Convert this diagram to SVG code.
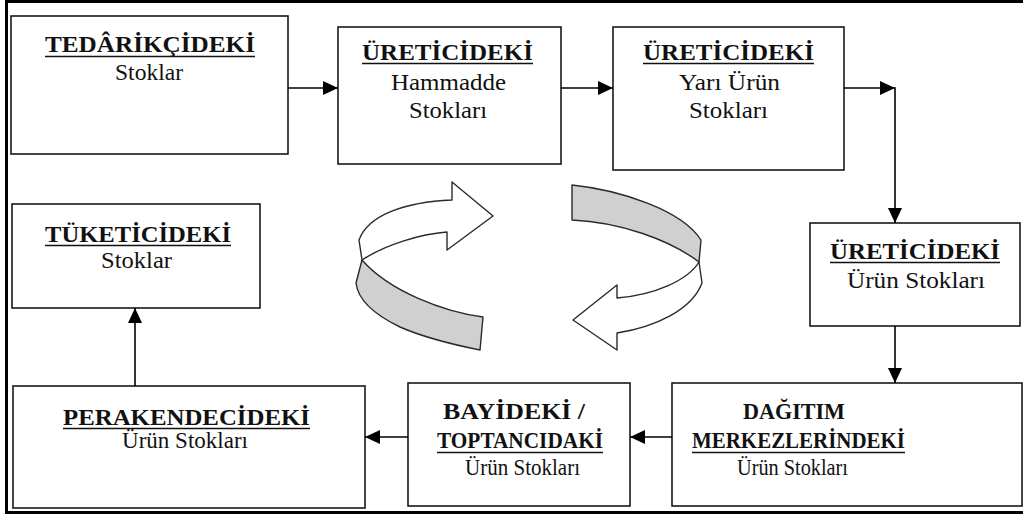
<svg xmlns="http://www.w3.org/2000/svg" width="1023" height="515" viewBox="0 0 1023 515">
  <defs>
    <style>
      .box { fill: #ffffff; stroke: #1a1a1a; stroke-width: 1.6; }
      .title { font-family: 'Liberation Serif', 'DejaVu Serif', serif; font-size: 24px; font-weight: bold; fill: #111; }
      .sub { font-family: 'Liberation Serif', 'DejaVu Serif', serif; font-size: 23px; fill: #111; }
      .ul { stroke: #111; stroke-width: 1.5; }
      .conn { stroke: #000; stroke-width: 1.6; fill: none; }
      .ribbon { stroke: #2a2a2a; stroke-width: 1.4; stroke-linejoin: round; }
      .frame { fill: none; stroke: #000; stroke-width: 3; }
    </style>
    <marker id="arrow" markerUnits="userSpaceOnUse" markerWidth="16" markerHeight="14" refX="15" refY="7" orient="auto">
      <path d="M0,0 L15,7 L0,14 Z" fill="#000"/>
    </marker>
  </defs>

  <rect width="1023" height="515" fill="#ffffff"/>

  <!-- outer frame (open on the right) -->
  <path class="frame" d="M1023,1.5 H6.5 V512.5 H1023"/>

  <!-- supplier stock -->
  <g id="node-tedarikci">
    <rect class="box" x="11" y="16" width="277" height="138"/>
    <text class="title" x="45" y="52" textLength="210" lengthAdjust="spacingAndGlyphs">TEDÂRİKÇİDEKİ</text>
    <line class="ul" x1="45" y1="56.5" x2="255" y2="56.5"/>
    <text class="sub" x="115" y="80" textLength="68" lengthAdjust="spacingAndGlyphs">Stoklar</text>
  </g>

  <!-- producer raw material stock -->
  <g id="node-hammadde">
    <rect class="box" x="338" y="27" width="223" height="137"/>
    <text class="title" x="362" y="60" textLength="171" lengthAdjust="spacingAndGlyphs">ÜRETİCİDEKİ</text>
    <line class="ul" x1="362" y1="63.5" x2="533" y2="63.5"/>
    <text class="sub" x="391" y="90" textLength="115" lengthAdjust="spacingAndGlyphs">Hammadde</text>
    <text class="sub" x="409" y="118" textLength="78" lengthAdjust="spacingAndGlyphs">Stokları</text>
  </g>

  <!-- producer semi-finished stock -->
  <g id="node-yari-urun">
    <rect class="box" x="613" y="27" width="231" height="143"/>
    <text class="title" x="643" y="60" textLength="171" lengthAdjust="spacingAndGlyphs">ÜRETİCİDEKİ</text>
    <line class="ul" x1="643" y1="63.5" x2="814" y2="63.5"/>
    <text class="sub" x="679" y="90" textLength="101" lengthAdjust="spacingAndGlyphs">Yarı Ürün</text>
    <text class="sub" x="689" y="118" textLength="79" lengthAdjust="spacingAndGlyphs">Stokları</text>
  </g>

  <!-- producer finished goods stock -->
  <g id="node-urun">
    <rect class="box" x="810" y="223" width="210" height="103"/>
    <text class="title" x="830" y="259" textLength="170" lengthAdjust="spacingAndGlyphs">ÜRETİCİDEKİ</text>
    <line class="ul" x1="830" y1="262.5" x2="1000" y2="262.5"/>
    <text class="sub" x="847" y="288" textLength="138" lengthAdjust="spacingAndGlyphs">Ürün Stokları</text>
  </g>

  <!-- distribution centre stock -->
  <g id="node-dagitim">
    <rect class="box" x="672" y="383" width="350" height="123"/>
    <text class="title" x="743" y="419" textLength="102" lengthAdjust="spacingAndGlyphs">DAĞITIM</text>
    <text class="title" x="692" y="448" textLength="213" lengthAdjust="spacingAndGlyphs">MERKEZLERİNDEKİ</text>
    <line class="ul" x1="692" y1="452.5" x2="905" y2="452.5"/>
    <text class="sub" x="737" y="475" textLength="111" lengthAdjust="spacingAndGlyphs">Ürün Stokları</text>
  </g>

  <!-- dealer / wholesaler stock -->
  <g id="node-bayi">
    <rect class="box" x="408" y="383" width="222" height="123"/>
    <text class="title" x="443" y="419" textLength="142" lengthAdjust="spacingAndGlyphs">BAYİDEKİ /</text>
    <text class="title" x="437" y="448" textLength="166" lengthAdjust="spacingAndGlyphs">TOPTANCIDAKİ</text>
    <line class="ul" x1="437" y1="452.5" x2="603" y2="452.5"/>
    <text class="sub" x="465" y="475" textLength="115" lengthAdjust="spacingAndGlyphs">Ürün Stokları</text>
  </g>

  <!-- retailer stock -->
  <g id="node-perakende">
    <rect class="box" x="13" y="386" width="352" height="122"/>
    <text class="title" x="63" y="425" textLength="247" lengthAdjust="spacingAndGlyphs">PERAKENDECİDEKİ</text>
    <line class="ul" x1="63" y1="428.5" x2="310" y2="428.5"/>
    <text class="sub" x="122" y="448" textLength="126" lengthAdjust="spacingAndGlyphs">Ürün Stokları</text>
  </g>

  <!-- consumer stock -->
  <g id="node-tuketici">
    <rect class="box" x="12" y="204" width="248" height="104"/>
    <text class="title" x="45" y="242" textLength="186" lengthAdjust="spacingAndGlyphs">TÜKETİCİDEKİ</text>
    <line class="ul" x1="45" y1="245.5" x2="231" y2="245.5"/>
    <text class="sub" x="101" y="268" textLength="71" lengthAdjust="spacingAndGlyphs">Stoklar</text>
  </g>

  <!-- flow connectors -->
  <g id="connectors">
    <line class="conn" x1="288" y1="88" x2="338" y2="88" marker-end="url(#arrow)"/>
    <line class="conn" x1="561" y1="88" x2="613" y2="88" marker-end="url(#arrow)"/>
    <line class="conn" x1="844" y1="88" x2="895" y2="88" marker-end="url(#arrow)"/>
    <line class="conn" x1="895" y1="87.2" x2="895" y2="223" marker-end="url(#arrow)"/>
    <line class="conn" x1="895" y1="326" x2="895" y2="383" marker-end="url(#arrow)"/>
    <line class="conn" x1="672" y1="437" x2="630" y2="437" marker-end="url(#arrow)"/>
    <line class="conn" x1="408" y1="437" x2="365" y2="437" marker-end="url(#arrow)"/>
    <line class="conn" x1="135" y1="386" x2="135" y2="308" marker-end="url(#arrow)"/>
  </g>

  <!-- circular ribbon arrows in the centre -->
  <g id="cycle-left">
    <path class="ribbon" fill="#d0d0d0" d="M362,260 L356,283 C358,300 375,315 400,327 C425,338 455,345 480,350 L483,317 C445,312 390,292 362,260 Z"/>
    <path class="ribbon" fill="#ffffff" d="M452,182 L493,216 L447,250 L447,232 C420,234 385,245 362,260 L359,240 C368,215 405,202 452,200 Z"/>
  </g>
  <g id="cycle-right">
    <path class="ribbon" fill="#d0d0d0" d="M572,185 C620,190 682,210 701,240 L699,262 C670,240 620,222 572,220 Z"/>
    <path class="ribbon" fill="#ffffff" d="M699,262 C688,280 655,295 617,298 L617,285 L573,320 L617,350 L617,333 C655,327 692,310 702,283 Z"/>
  </g>
</svg>
